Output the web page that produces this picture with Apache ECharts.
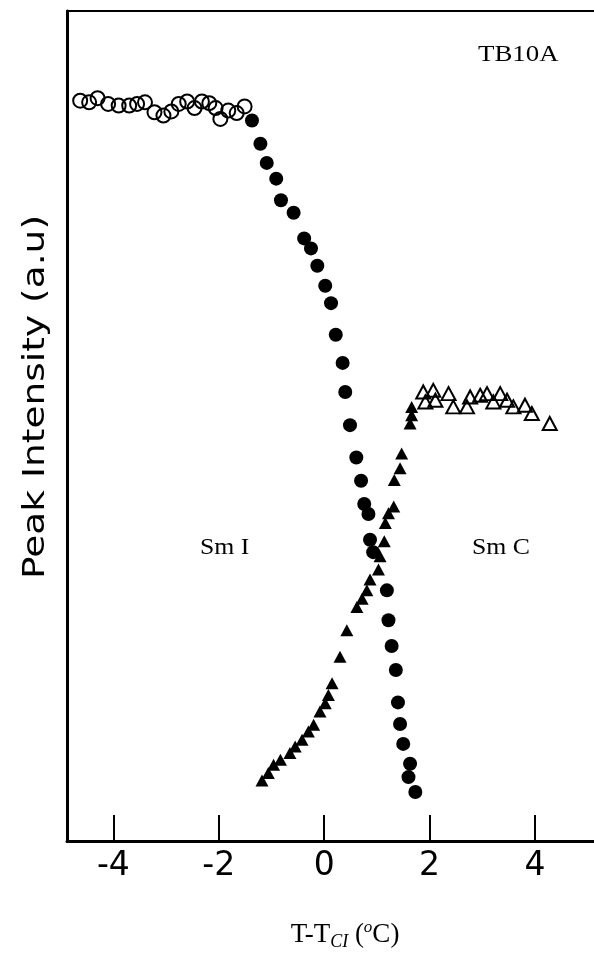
<!DOCTYPE html>
<html>
<head>
<meta charset="utf-8">
<script src="https://cdn.jsdelivr.net/npm/echarts@6/dist/echarts.min.js"></script>
<style>
  html, body { margin: 0; padding: 0; background: #fff; }
  #chart { width: 594px; height: 957px; }
</style>
</head>
<body>
<div id="chart"></div>
<script>
// Tick positions on the temperature axis
const xTicks = [-4, -2, 0, 2, 4];

// Sm I phase, low temperature plateau (open circles): [T - Tci, intensity]
const smIPlateau = [
  [-4.63, 89.2], [-4.46, 89.0], [-4.30, 89.5], [-4.10, 88.8], [-3.90, 88.6],
  [-3.70, 88.6], [-3.55, 88.8], [-3.40, 89.0], [-3.22, 87.8], [-3.05, 87.4],
  [-2.90, 87.9], [-2.76, 88.8], [-2.60, 89.1], [-2.46, 88.3], [-2.32, 89.1],
  [-2.18, 88.9], [-2.06, 88.3], [-1.97, 87.0], [-1.82, 88.0], [-1.66, 87.7],
  [-1.51, 88.5]
];

// Sm I reflection falling through the transition (filled circles)
const smIFalling = [
  [-1.37, 86.8], [-1.21, 84.0], [-1.09, 81.7], [-0.91, 79.8], [-0.82, 77.2],
  [-0.58, 75.7], [-0.38, 72.6], [-0.25, 71.4], [-0.13, 69.3], [0.02, 66.9],
  [0.13, 64.8], [0.22, 61.0], [0.35, 57.6], [0.40, 54.1], [0.49, 50.1],
  [0.61, 46.2], [0.70, 43.4], [0.76, 40.6], [0.84, 39.4], [0.87, 36.3],
  [0.93, 34.8], [1.19, 30.2], [1.22, 26.6], [1.28, 23.5], [1.36, 20.6],
  [1.40, 16.7], [1.44, 14.1], [1.50, 11.7], [1.63, 9.3], [1.60, 7.7],
  [1.73, 5.9]
];

// Sm C reflection growing through the transition (filled triangles)
const smCRising = [
  [-1.18, 7.3], [-1.06, 8.2], [-0.96, 9.2], [-0.83, 9.8], [-0.65, 10.6],
  [-0.55, 11.4], [-0.42, 12.2], [-0.30, 13.2], [-0.20, 14.0], [-0.08, 15.6],
  [0.02, 16.6], [0.08, 17.6], [0.15, 19.0], [0.30, 22.2], [0.43, 25.4],
  [0.62, 28.2], [0.72, 29.2], [0.81, 30.2], [0.87, 31.5], [1.03, 32.7],
  [1.06, 34.3], [1.14, 36.1], [1.16, 38.3], [1.22, 39.5], [1.32, 40.3],
  [1.33, 43.5], [1.44, 44.9], [1.47, 46.7], [1.63, 50.3], [1.66, 51.3],
  [1.66, 52.3]
];

// Sm C phase, high temperature plateau (open triangles)
const smCPlateau = [
  [1.88, 54.1], [1.92, 52.9], [2.07, 54.3], [2.11, 53.1], [2.36, 53.9],
  [2.45, 52.3], [2.71, 52.3], [2.77, 53.5], [2.96, 53.7], [3.09, 53.9],
  [3.21, 52.9], [3.34, 53.9], [3.47, 53.1], [3.59, 52.3], [3.81, 52.5],
  [3.94, 51.5], [4.28, 50.3]
];

const chart = echarts.init(document.getElementById('chart'), null, { renderer: 'canvas' });

const axisFont = '"DejaVu Sans", "Liberation Sans", sans-serif';
const serifFont = '"Liberation Serif", "DejaVu Serif", serif';

const hollow = {
  color: 'rgba(0,0,0,0)', borderColor: '#000', borderWidth: 2, opacity: 1
};
const solid = { color: '#000', opacity: 1 };

chart.setOption({
  backgroundColor: '#fff',
  animation: false,
  grid: { left: 67, right: 0, top: 11, bottom: 116, containLabel: false },
  xAxis: [
    {
      type: 'value', position: 'bottom', min: -4.88, max: 5.12,
      axisLine: { show: true, onZero: false, lineStyle: { color: '#000', width: 3 } },
      axisTick: { show: true, inside: true, length: 26, customValues: xTicks,
                  lineStyle: { color: '#000', width: 2 } },
      axisLabel: { show: true, customValues: xTicks, margin: 9, color: '#000',
                   fontFamily: axisFont, fontSize: 33,
                   formatter: v => String(v).replace('\u2212', '-') },
      splitLine: { show: false }
    },
    {
      type: 'value', position: 'top', min: -4.88, max: 5.12,
      axisLine: { show: true, onZero: false, lineStyle: { color: '#000', width: 2 } },
      axisTick: { show: false }, axisLabel: { show: false }, splitLine: { show: false }
    }
  ],
  yAxis: {
    type: 'value', min: 0, max: 100,
    axisLine: { show: true, onZero: false, lineStyle: { color: '#000', width: 3 } },
    axisTick: { show: false }, axisLabel: { show: false }, splitLine: { show: false }
  },
  series: [
    { name: 'Sm I plateau', type: 'scatter', data: smIPlateau, symbol: 'circle',
      symbolSize: 14, itemStyle: hollow },
    { name: 'Sm I', type: 'scatter', data: smIFalling, symbol: 'circle',
      symbolSize: 14, itemStyle: solid },
    { name: 'Sm C', type: 'scatter', data: smCRising, symbol: 'triangle',
      symbolSize: [13, 12], itemStyle: solid },
    { name: 'Sm C plateau', type: 'scatter', data: smCPlateau, symbol: 'triangle',
      symbolSize: [14, 13], itemStyle: hollow }
  ],
  graphic: [
    { type: 'text', x: 36, y: 397, rotation: Math.PI / 2, scaleX: 1.25,
      style: { text: 'Peak Intensity (a.u)', fill: '#000', align: 'center',
               verticalAlign: 'middle', font: '30px ' + axisFont } },
    { type: 'text', x: 345, y: 935,
      style: {
        text: '{n|T-T}{sub|CI}{n| (}{sup|o}{n|C)}', fill: '#000',
        align: 'center', verticalAlign: 'middle',
        rich: {
          n: { fontFamily: serifFont, fontSize: 27, lineHeight: 32, fill: '#000' },
          sub: { fontFamily: serifFont, fontSize: 18, fontStyle: 'italic',
                 verticalAlign: 'bottom', lineHeight: 18, fill: '#000' },
          sup: { fontFamily: serifFont, fontSize: 17, fontStyle: 'italic',
                 verticalAlign: 'top', lineHeight: 24, fill: '#000' }
        }
      } },
    { type: 'text', x: 478, y: 55, scaleX: 1.12,
      style: { text: 'TB10A', fill: '#000', align: 'left', verticalAlign: 'middle',
               font: '24px ' + serifFont } },
    { type: 'text', x: 200, y: 548, scaleX: 1.12,
      style: { text: 'Sm I', fill: '#000', align: 'left', verticalAlign: 'middle',
               font: '23px ' + serifFont } },
    { type: 'text', x: 472, y: 548, scaleX: 1.12,
      style: { text: 'Sm C', fill: '#000', align: 'left', verticalAlign: 'middle',
               font: '23px ' + serifFont } }
  ]
});
</script>
</body>
</html>
